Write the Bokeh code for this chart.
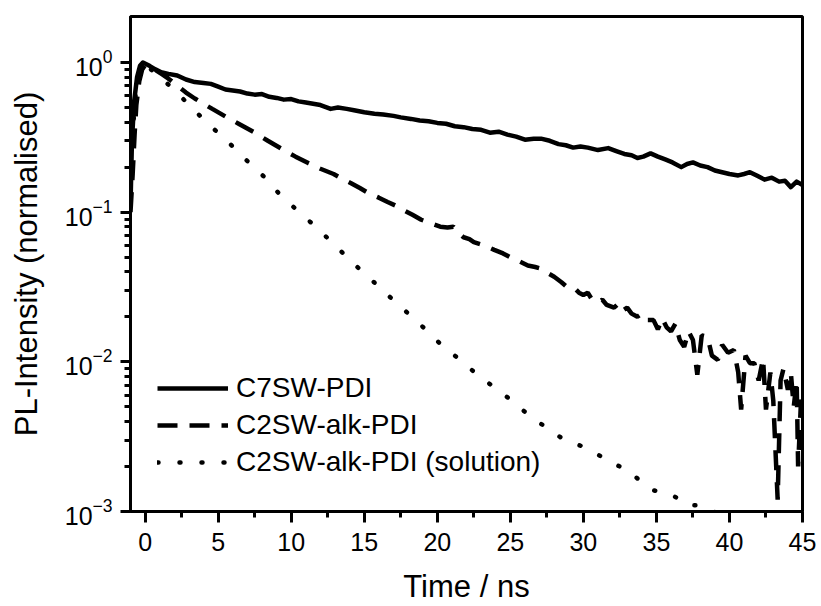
from bokeh.plotting import figure
from bokeh.models import FixedTicker, Range1d, Legend, LegendItem, LogTickFormatter
from bokeh.embed import file_html
from bokeh.resources import INLINE

# ---------------- data ----------------
c7_t = [-1.0, -0.9, -0.75, -0.55, -0.35, -0.15, 0.3, 0.7, 1.1, 1.6, 2.2, 2.8, 3.4, 4.0, 4.5,
        5.0, 5.5, 6.0, 6.5, 7.0, 7.5, 8.0, 8.5, 9.0, 9.5, 10.0, 10.5, 11.0, 11.5, 12.0, 12.7,
        13.2, 13.8, 14.3, 15.0, 15.7, 16.3, 17.0, 17.5, 18.2, 18.8, 19.4, 20.0, 20.6, 21.2,
        21.8, 22.4, 23.0, 23.6, 24.2, 24.8, 25.4, 26.0, 26.6, 27.1, 27.7, 28.3, 28.8, 29.3,
        29.8, 30.3, 31.0, 31.7, 32.3, 32.8, 33.3, 33.7, 34.1, 34.6, 35.1, 35.6, 36.1, 36.7,
        37.1, 37.5, 38.0, 38.5, 39.0, 39.5, 40.0, 40.6, 41.0, 41.4, 41.9, 42.4, 42.9, 43.4,
        43.8, 44.2, 44.6, 45.0]
c7_i = [0.11, 0.30, 0.55, 0.80, 0.95, 1.00, 0.95, 0.90, 0.86, 0.84, 0.82, 0.77, 0.74, 0.73, 0.72,
        0.69, 0.66, 0.65, 0.64, 0.62, 0.61, 0.615, 0.59, 0.58, 0.565, 0.57, 0.55, 0.54, 0.53, 0.52, 0.49,
        0.50, 0.49, 0.48, 0.465, 0.455, 0.45, 0.44, 0.43, 0.42, 0.41, 0.405, 0.395, 0.39, 0.375,
        0.37, 0.36, 0.355, 0.34, 0.345, 0.33, 0.32, 0.305, 0.31, 0.31, 0.30, 0.285, 0.28, 0.27,
        0.275, 0.27, 0.26, 0.268, 0.255, 0.245, 0.24, 0.23, 0.235, 0.247, 0.235, 0.225, 0.215, 0.20,
        0.21, 0.215, 0.205, 0.20, 0.19, 0.185, 0.18, 0.176, 0.18, 0.185, 0.175, 0.165, 0.17, 0.16,
        0.162, 0.147, 0.16, 0.152]

c2_t = [-1.0, -0.85, -0.72, -0.6, -0.4, -0.2, 0.0, 0.4, 0.8, 1.2, 1.6, 2.2, 2.8, 3.4, 4.0, 4.6,
        5.5, 6.4, 7.5, 8.4, 9.4, 10.3, 11.2, 12.0, 12.9, 13.5, 14.1, 14.7, 15.3, 16.0, 16.6, 17.2,
        17.7, 18.3, 18.9, 19.6, 20.2, 20.7, 21.1, 21.5, 21.8, 22.2, 22.5, 23.2, 23.9, 24.5, 25.0,
        25.6, 26.2, 26.7, 27.1, 27.6, 28.0, 28.5, 28.9, 29.4, 29.7, 30.0, 30.3, 30.6, 31.0, 31.3,
        31.6, 32.1, 32.4, 32.7, 33.0, 33.3, 33.7, 34.0, 34.4, 34.8, 35.1, 35.4, 35.7, 36.0, 36.3,
        36.6, 36.9, 37.2, 37.5, 37.8, 38.1, 38.5, 38.8, 39.2, 39.5, 39.9, 40.3, 40.6, 40.8, 41.1,
        41.4, 41.7, 42.0, 42.3, 42.5, 42.8, 43.0, 43.3, 43.5, 43.7, 44.0, 44.2, 44.4, 44.6, 44.7,
        44.9, 45.0]
c2_i = [0.10, 0.18, 0.33, 0.52, 0.75, 0.90, 0.96, 0.93, 0.88, 0.83, 0.78, 0.70, 0.63, 0.575, 0.53, 0.49,
        0.436, 0.39, 0.34, 0.30, 0.263, 0.235, 0.212, 0.195, 0.18, 0.167, 0.156, 0.145, 0.134, 0.125, 0.117, 0.11,
        0.103, 0.096, 0.089, 0.084, 0.080, 0.079, 0.080, 0.072, 0.068, 0.066, 0.063, 0.060, 0.056, 0.053, 0.050,
        0.047, 0.044, 0.043, 0.042, 0.039, 0.037, 0.034, 0.0315, 0.031, 0.029, 0.028, 0.029, 0.026, 0.025, 0.026,
        0.024, 0.023, 0.0245, 0.022, 0.023, 0.021, 0.020, 0.021, 0.019, 0.019, 0.0165, 0.0195, 0.017, 0.016, 0.018,
        0.014, 0.0126, 0.016, 0.014, 0.0082, 0.015, 0.0147, 0.011, 0.0103, 0.013, 0.0115, 0.012, 0.0085, 0.0048, 0.011,
        0.0098, 0.0098, 0.0075, 0.0105, 0.0048, 0.0085, 0.0055, 0.0012, 0.0075, 0.009, 0.0065, 0.0085, 0.005, 0.0075, 0.002,
        0.0056, 0.0045]

sol_t = [-0.9, -0.6, -0.3, 0.0, 0.5, 1.0, 1.9, 3.1, 4.3, 5.6, 6.8, 8.1, 9.2, 10.5, 11.8, 13.0,
         14.2, 15.4, 16.6, 17.9, 19.1, 20.2, 21.4, 22.5, 23.6, 24.8, 25.8, 26.8, 27.6, 28.5, 30.0,
         31.0, 32.0, 33.0, 33.9, 34.6, 35.3, 36.0, 36.6, 37.1, 38.0, 38.9, 39.5]
sol_i = [0.30, 0.70, 0.93, 0.98, 0.88, 0.80, 0.67, 0.51, 0.39, 0.30, 0.229, 0.174, 0.132, 0.101, 0.078, 0.060,
         0.046, 0.036, 0.028, 0.0215, 0.0168, 0.0132, 0.0106, 0.0086, 0.0071, 0.0058, 0.0048, 0.0040, 0.0036, 0.0031, 0.0027,
         0.0024, 0.0021, 0.0019, 0.0016, 0.0014, 0.00135, 0.0013, 0.0012, 0.0011, 0.0011, 0.0010, 0.00095]

series_names = ["C7SW-PDI", "C2SW-alk-PDI", "C2SW-alk-PDI (solution)"]
x_major = [0, 5, 10, 15, 20, 25, 30, 35, 40, 45]
y_exps = [-3, -2, -1, 0]
x_title = "Time / ns"
y_title = "PL-Intensity (normalised)"

FONT = "Liberation Sans"

p = figure(width=821, height=606, y_axis_type="log",
           x_range=Range1d(-1, 45), y_range=Range1d(1e-3, 2.03),
           output_backend="svg", toolbar_location=None,
           min_border_left=130, min_border_right=19, min_border_top=16, min_border_bottom=94)
p.grid.visible = False
p.outline_line_color = "black"
p.outline_line_width = 3
p.background_fill_color = "white"
p.border_fill_color = "white"

r1 = p.line(c7_t, c7_i, line_color="black", line_width=4.5, line_join="round")
r2 = p.line(c2_t, c2_i, line_color="black", line_width=4.5, line_dash="20 12")
r3 = p.line(sol_t, sol_i, line_color="black", line_width=4.5, line_dash="1 21", line_cap="round")

# x axis
xa = p.xaxis[0]
xa.ticker = FixedTicker(ticks=x_major, minor_ticks=[v + 2.5 for v in x_major[:-1]])
xa.axis_line_width = 3
xa.major_tick_line_width = 3
xa.minor_tick_line_width = 3
xa.major_tick_out = 11
xa.major_tick_in = 0
xa.minor_tick_out = 6
xa.minor_tick_in = 0
xa.major_label_text_font = FONT
xa.major_label_text_font_size = "25px"
xa.major_label_text_color = "black"
xa.major_label_standoff = 10
xa.axis_label = x_title
xa.axis_label_text_font = FONT
xa.axis_label_text_font_size = "31px"
xa.axis_label_text_font_style = "normal"
xa.axis_label_text_color = "black"
xa.axis_label_standoff = 15

# y axis
ya = p.yaxis[0]
minor = [m * 10.0 ** e for e in y_exps[:-1] for m in range(2, 10)]
ya.ticker = FixedTicker(ticks=[10.0 ** e for e in y_exps], minor_ticks=minor)
ya.formatter = LogTickFormatter()
ya.axis_line_width = 3
ya.major_tick_line_width = 3
ya.minor_tick_line_width = 3
ya.major_tick_out = 10
ya.major_tick_in = 0
ya.minor_tick_out = 6
ya.minor_tick_in = 0
ya.major_label_text_font = FONT
ya.major_label_text_font_size = "25px"
ya.major_label_text_color = "black"
ya.major_label_standoff = 8
ya.axis_label = y_title
ya.axis_label_text_font = FONT
ya.axis_label_text_font_size = "31px"
ya.axis_label_text_font_style = "normal"
ya.axis_label_text_color = "black"
ya.axis_label_standoff = 18

legend = Legend(items=[LegendItem(label=series_names[0], renderers=[r1]),
                       LegendItem(label=series_names[1], renderers=[r2]),
                       LegendItem(label=series_names[2], renderers=[r3])],
                location=(27, 33), orientation="vertical", padding=0, margin=0, spacing=5,
                glyph_width=71, glyph_height=30, label_height=30, label_standoff=8,
                label_text_font=FONT, label_text_font_size="28px", label_text_color="black",
                border_line_color=None, background_fill_alpha=0)
p.add_layout(legend)

open("out.html", "w").write(file_html(p, INLINE))
